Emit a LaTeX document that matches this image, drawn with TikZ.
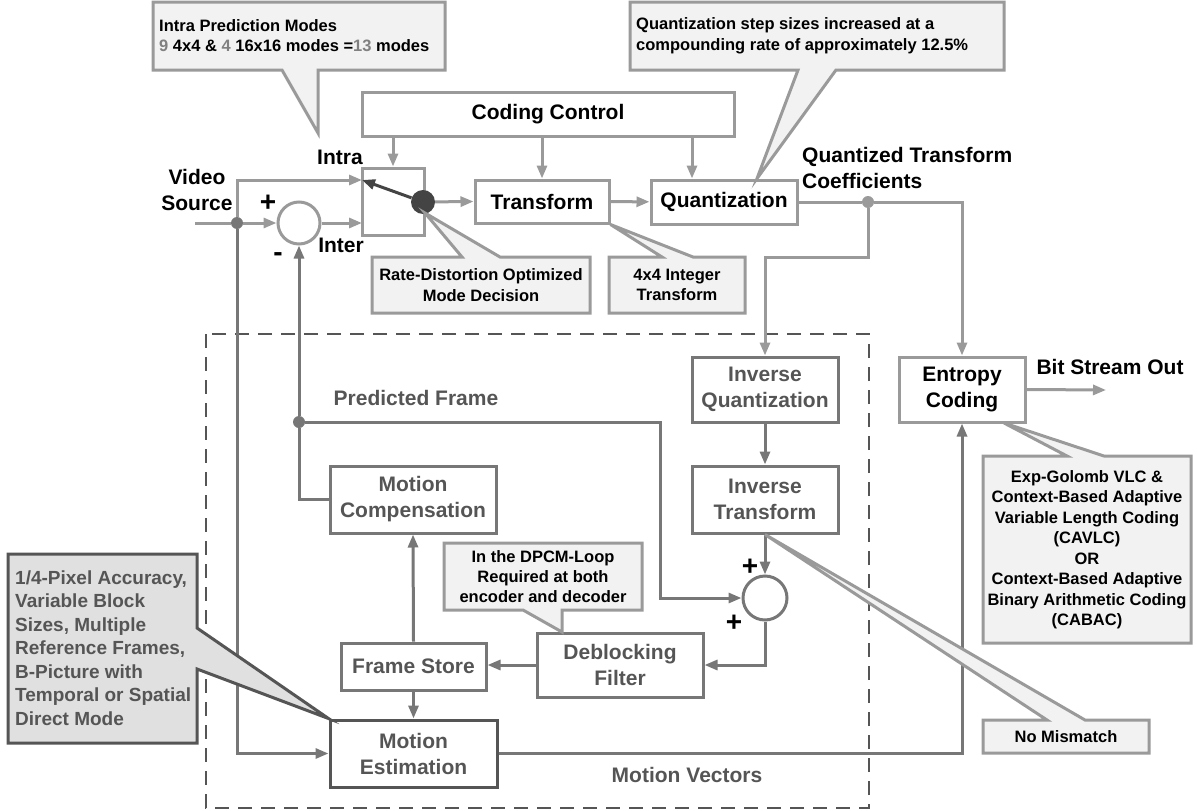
\documentclass[tikz,border=0pt]{standalone}
\usepackage{fontspec}
\setmainfont{Liberation Sans}
\usetikzlibrary{arrows.meta}
\definecolor{lgray}{HTML}{9A9A9A}
\definecolor{dgray}{HTML}{777777}
\definecolor{tgray}{HTML}{555555}
\definecolor{nfill}{HTML}{F2F2F2}
\definecolor{mfill}{HTML}{E0E0E0}
\definecolor{swdot}{HTML}{444444}
\tikzset{
  blk/.style={draw=lgray, line width=3pt, inner sep=0pt, align=center,
    font=\fontsize{21}{26}\selectfont\bfseries, text=black},
  lblk/.style={blk, draw=dgray, text=tgray},
  ln/.style={lgray, line width=3pt},
  dln/.style={dgray, line width=3pt},
  arr/.style={-{Triangle[length=13pt,width=10pt]}},
  note/.style={fill=nfill, draw=lgray, line width=3pt},
  ntext/.style={font=\fontsize{16.5}{20.5}\selectfont\bfseries, align=center, inner sep=0pt},
  lab/.style={font=\fontsize{21}{26}\selectfont\bfseries, inner sep=0pt, align=center},
  sgn/.style={font=\fontsize{28}{28}\selectfont\bfseries, inner sep=0pt},
  jn/.style={circle, inner sep=0pt, minimum size=12pt},
}
\begin{document}
\begin{tikzpicture}[x=1pt,y=-1pt]
\useasboundingbox (0,0) rectangle (1197,811);
% blocks
\node[blk, minimum width=372pt, minimum height=44pt] (ctrl) at (548,114) {Coding Control};
\node[blk, minimum width=62pt, minimum height=67pt] (sw) at (393,201.5) {};
\node[blk, minimum width=134pt, minimum height=43pt] (tr) at (542,201.5) {Transform};
\node[blk, minimum width=146pt, minimum height=44pt] (qu) at (724,202) {Quantization};
\node[blk, minimum width=126pt, minimum height=65pt] (ec) at (962,389.5) {Entropy\\Coding};
\node[lblk, minimum width=146pt, minimum height=65pt] (iq) at (765,389.5) {Inverse\\Quantization};
\node[lblk, minimum width=146pt, minimum height=67pt] (it) at (765,499.5) {Inverse\\Transform};
\node[lblk, minimum width=166pt, minimum height=67pt] (mc) at (413,499.5) {Motion\\Compensation};
\node[lblk, minimum width=166pt, minimum height=64pt] (df) at (620,665) {Deblocking\\Filter};
\node[lblk, minimum width=145pt, minimum height=47pt] (fs) at (413.5,666.5) {Frame Store};
\node[lblk, draw=tgray, minimum width=167pt, minimum height=67pt] (me) at (413.5,753.5) {Motion\\Estimation};
\node[circle, draw=lgray, line width=3pt, minimum size=42pt, inner sep=0pt] (sum) at (299,223) {};
\node[circle, draw=dgray, line width=3pt, minimum size=44pt, inner sep=0pt] (add) at (765,598) {};
\draw[tgray, line width=2.5pt, dash pattern=on 14pt off 9pt] (206,334) rectangle (869,808);
% junctions
\node[jn, fill=dgray] (jin) at (237,223) {};
\node[jn, fill=lgray] (jq) at (868,202) {};
\node[jn, fill=dgray] (jp) at (299,422) {};
\node[circle, fill=swdot, minimum size=24pt, inner sep=0pt] (sel) at (423,202) {};
\coordinate (vin) at (195,223);
\coordinate (swa) at (362,180);
\coordinate (swb) at (362,223);
\coordinate (bout) at (1106,390);
% connectors
\draw[ln] (vin) -- (jin);
\draw[ln,arr] (jin) -- (sum.west);
\draw[ln,arr] (jin) |- (swa);
\draw[ln,arr] (sum.east) -- (swb);
\draw[dln,arr] (jin) |- (me.west);
\draw[swdot, line width=3pt, arr] (sel) -- (swa);
\draw[ln,arr] (sel) -- (tr.west);
\draw[ln,arr] (tr) -- (qu);
\draw[ln,arr] (ctrl.south -| sw.north) -- (sw.north);
\draw[ln,arr] (ctrl.south -| tr.north) -- (tr.north);
\draw[ln,arr] ([xshift=-32pt]qu.north |- ctrl.south) -- ([xshift=-32pt]qu.north);
\draw[ln] (qu.east) -- (jq);
\draw[ln,arr] (jq) -| (ec.north);
\draw[ln,arr] (jq) -- ++(0,55) -| (iq.north);
\draw[ln,arr] (ec.east) -- (bout);
\draw[dln,arr] (iq) -- (it);
\draw[dln,arr] (it.south) -- (add.north);
\draw[dln,arr] (add.south) |- (df.east);
\draw[dln,arr] (df.west) -- (df.west -| fs.east);
\draw[dln,arr] (fs.north) -- (mc.south);
\draw[dln,arr] (fs.south) -- (me.north);
\draw[dln] (mc.west) -| (jp);
\draw[dln,arr] (jp) -- (sum.south);
\draw[dln,arr] (jp) -| ([xshift=-81pt]add.west) -- (add.west);
\draw[dln,arr] (me.east) -| (ec.south);
% labels
\node[lab] (vs) at (197,190) {Video\\Source};
\node[lab] (intra) at (340,157) {Intra};
\node[lab] (inter) at (341,245) {Inter};
\node[sgn] (plus) at (268,203) {+};
\node[sgn] (minus) at (278,257) {-};
\node[sgn] (plusa) at (750,567) {+};
\node[sgn] (plusb) at (734,623) {+};
\node[lab, align=left, anchor=west] (qtc) at (802,168) {Quantized Transform\\Coefficients};
\node[lab, text=tgray] (pf) at (416,398) {Predicted Frame};
\node[lab, text=tgray] (mv) at (687,775) {Motion Vectors};
\node[lab] (bso) at (1110,367) {Bit Stream Out};
% callouts
\draw[note] (153,2) -- (445,2) -- (445,70) -- (318,70) -- (318,133) -- (282,70) -- (153,70) -- cycle;
\node[ntext, align=left, anchor=west] (intranote) at (159,35.5)
  {Intra Prediction Modes\\\textcolor{gray}{9} 4x4 \& \textcolor{gray}{4} 16x16 modes =\textcolor{gray}{13} modes};
\draw[note] (630,2) -- (1004,2) -- (1004,70) -- (836,70) -- ([xshift=33pt]qu.north) -- (798,70) -- (630,70) -- cycle;
\node[ntext, align=left, anchor=west] (qnote) at (636,36)
  {Quantization step sizes increased at a\\compounding rate of approximately 12.5\%};
\draw[note] (372,257) -- (462,257) -- (425,213) -- (500,257) -- (590,257) -- (590,313) -- (372,313) -- cycle;
\node[ntext] (rdnote) at (481,285) {Rate-Distortion Optimized\\Mode Decision};
\draw[note] (609,257) -- (662,257) -- (tr.south east) -- (693,257) -- (745,257) -- (745,313) -- (609,313) -- cycle;
\node[ntext] (trnote) at (677,285) {4x4 Integer\\Transform};
\draw[note] (983,456) -- (1067,456) -- (1004,423) -- (1104,456) -- (1191,456) -- (1191,643) -- (983,643) -- cycle;
\node[ntext] (ecnote) at (1087,549.5) {Exp-Golomb VLC \&\\Context-Based Adaptive\\Variable Length Coding\\(CAVLC)\\OR\\Context-Based Adaptive\\Binary Arithmetic Coding\\(CABAC)};
\draw[note] (983,720) -- (1047,720) -- (it.south) -- (1085,720) -- (1149,720) -- (1149,753) -- (983,753) -- cycle;
\node[ntext] (nmnote) at (1066,736.5) {No Mismatch};
\draw[note] (444,543) -- (642,543) -- (642,610) -- (562,610) -- (562,632) -- (523,610) -- (444,610) -- cycle;
\node[ntext, font=\fontsize{16.5}{20}\selectfont\bfseries] (dpcmnote) at (543,577) {In the DPCM-Loop\\Required at both\\encoder and decoder};
\draw[note, fill=mfill, draw=tgray] (8,554) -- (197,554) -- (197,628) -- (me.north west) -- (197,669) -- (197,743) -- (8,743) -- cycle;
\node[ntext, align=left, anchor=west, text=tgray, font=\fontsize{19}{23.5}\selectfont\bfseries] (menote) at (15,648)
  {1/4-Pixel Accuracy,\\Variable Block\\Sizes, Multiple\\Reference Frames,\\B-Picture with\\Temporal or Spatial\\Direct Mode};
\end{tikzpicture}
\end{document}
